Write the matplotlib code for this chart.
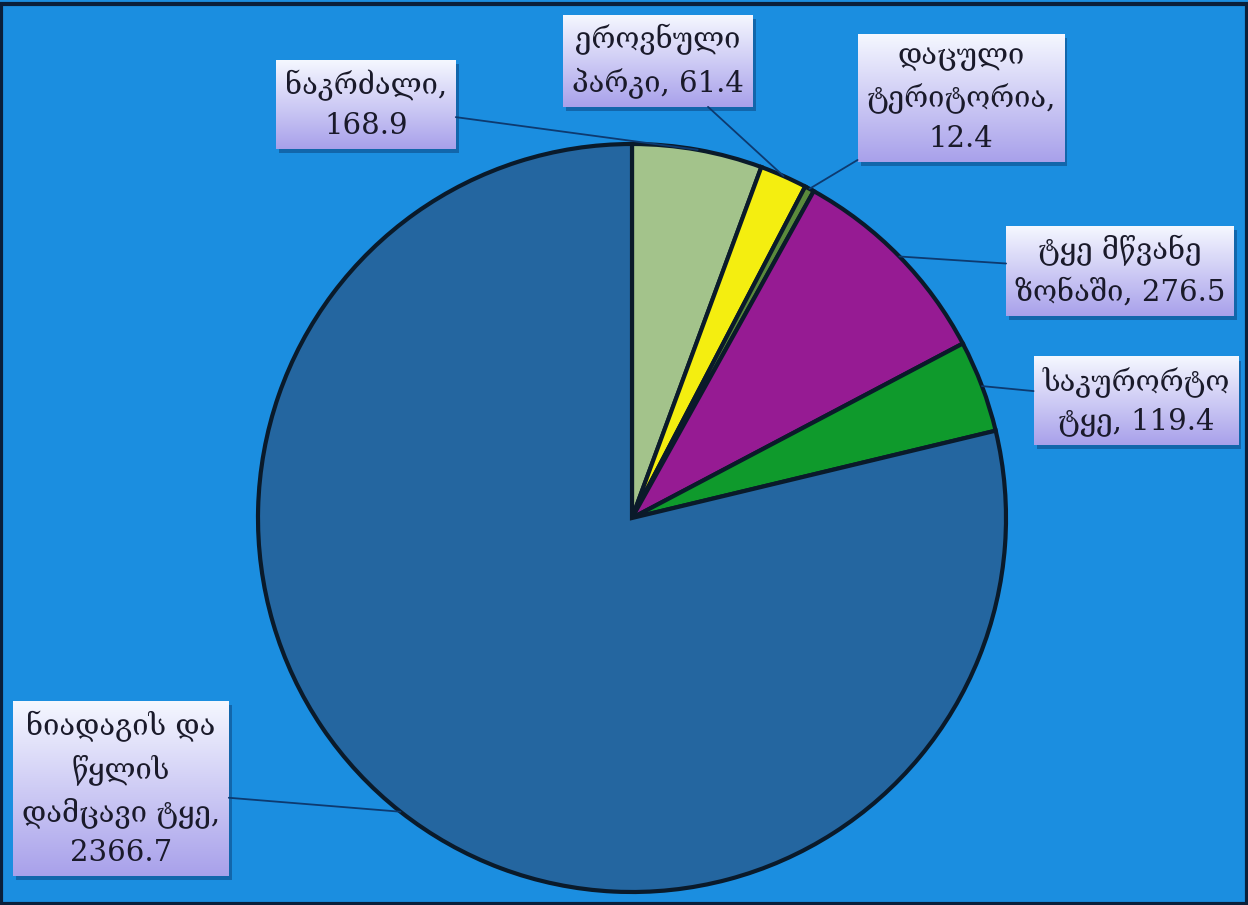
import matplotlib.pyplot as plt
import matplotlib.patches as mpatches
import numpy as np

labels = ["ნაკრძალი,\n168.9",
          "ეროვნული\nპარკი, 61.4",
          "დაცული\nტერიტორია,\n12.4",
          "ტყე მწვანე\nზონაში, 276.5",
          "საკურორტო\nტყე, 119.4",
          "ნიადაგის და\nწყლის\nდამცავი ტყე,\n2366.7"]
values = [168.9, 61.4, 12.4, 276.5, 119.4, 2366.7]
colors = ["#a3c38b", "#f4ee10", "#5b8a3c", "#961b93", "#0f9a2c", "#2466a0"]

# label box centres (pixels, top-left origin)
label_pos = [(366, 105), (658, 61), (961, 98), (1120, 271), (1136, 401), (121, 789)]

W, H = 1248, 905
fig = plt.figure(figsize=(W / 100, H / 100), dpi=100)
fig.patch.set_facecolor("#1b8ee0")
ax = fig.add_axes([0, 0, 1, 1])
ax.set_xlim(0, W)
ax.set_ylim(0, H)
ax.set_aspect("equal")
ax.axis("off")

cx, cy, r = 632, H - 518, 374
wedges, _ = ax.pie(values, colors=colors, startangle=90, counterclock=False,
                   center=(cx, cy), radius=r,
                   wedgeprops=dict(edgecolor="#0a1a2a", linewidth=3))
ax.set_xlim(0, W)
ax.set_ylim(0, H)

texts = []
for w, lab, (px, py) in zip(wedges, labels, label_pos):
    ang = np.deg2rad((w.theta1 + w.theta2) / 2)
    ex, ey = cx + r * np.cos(ang), cy + r * np.sin(ang)
    t = ax.annotate(lab, xy=(ex, ey), xytext=(px, H - py),
                    ha="center", va="center", fontsize=21, linespacing=1.5,
                    family=["DejaVu Serif", "DejaVu Sans"], color="#1a1a2a",
                    zorder=6,
                    bbox=dict(boxstyle="square,pad=0.3", facecolor="none",
                              edgecolor="none"),
                    arrowprops=dict(arrowstyle="-", color="#0d3a70", lw=1.3,
                                    shrinkA=0, shrinkB=0))
    texts.append(t)

fig.canvas.draw()
grad = np.linspace(0, 1, 256).reshape(-1, 1)
top = np.array([0.96, 0.97, 1.0])
bot = np.array([0.66, 0.63, 0.92])
img = top[None, None, :] * (1 - grad[:, :, None]) + bot[None, None, :] * grad[:, :, None]
inv = ax.transData.inverted()
for t in texts:
    bb = t.get_bbox_patch().get_window_extent()
    (x0, y0), (x1, y1) = inv.transform([(bb.x0, bb.y0), (bb.x1, bb.y1)])
    ax.add_patch(mpatches.Rectangle((x0 + 3, y0 - 4), x1 - x0, y1 - y0,
                                    facecolor="#0b3f78", alpha=0.5, zorder=4))
    ax.imshow(img, extent=(x0, x1, y0, y1), aspect="auto", zorder=5)

ax.set_xlim(0, W)
ax.set_ylim(0, H)
ax.add_patch(mpatches.Rectangle((1, 1), W - 2, H - 5, fill=False,
                                edgecolor="#0a1f3a", linewidth=3, zorder=10))
fig.savefig("out.png", dpi=100, facecolor=fig.get_facecolor())
